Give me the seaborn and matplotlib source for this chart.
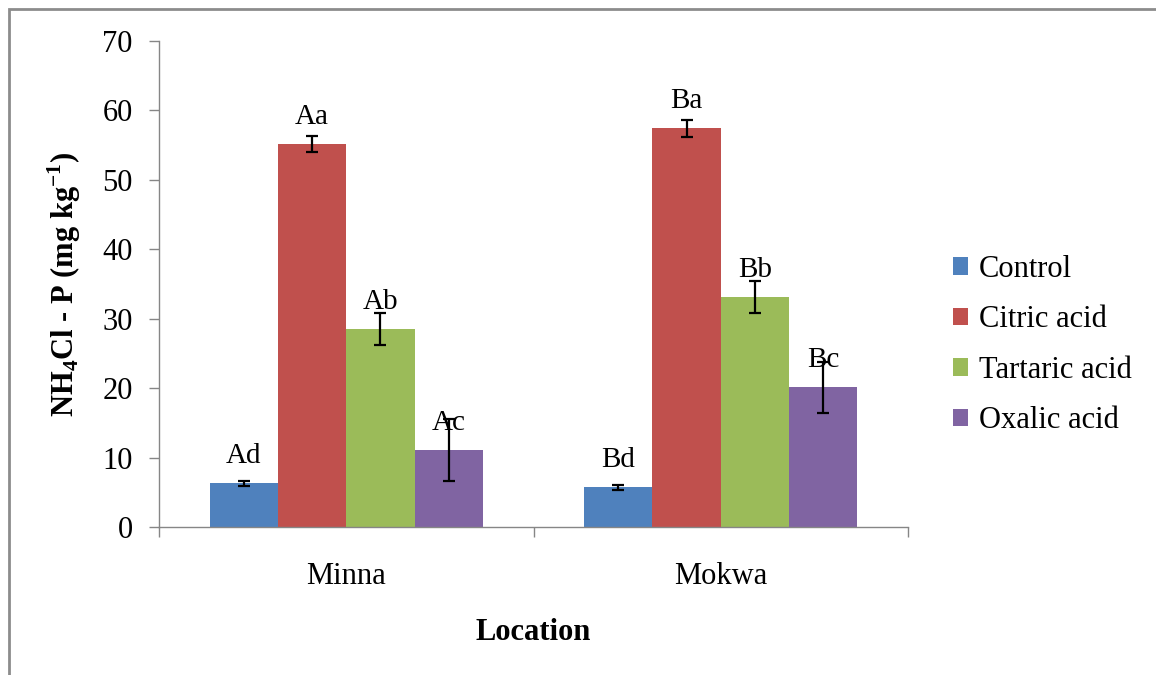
import numpy as np
import pandas as pd
import matplotlib
matplotlib.use('Agg')
import matplotlib.pyplot as plt
import seaborn as sns
from matplotlib.patches import Rectangle

# data
locations = ['Minna', 'Mokwa']
treatments = ['Control', 'Citric acid', 'Tartaric acid', 'Oxalic acid']
minna_means = [6.3, 55.2, 28.5, 11.1]
mokwa_means = [5.7, 57.4, 33.1, 20.1]
minna_err = [0.35, 1.15, 2.3, 4.45]
mokwa_err = [0.3, 1.2, 2.3, 3.7]
minna_letters = ['Ad', 'Aa', 'Ab', 'Ac']
mokwa_letters = ['Bd', 'Ba', 'Bb', 'Bc']
colors = ['#4F81BD', '#C0504D', '#9BBB59', '#8064A2']

df = pd.DataFrame({
    'Location': ['Minna'] * 4 + ['Mokwa'] * 4,
    'Treatment': treatments * 2,
    'value': minna_means + mokwa_means,
    'err': minna_err + mokwa_err,
    'letter': minna_letters + mokwa_letters,
})

sns.set_style('white')
plt.rcParams['font.family'] = ['Liberation Serif', 'DejaVu Serif']
plt.rcParams['mathtext.fontset'] = 'custom'
plt.rcParams['mathtext.rm'] = 'Liberation Serif'
plt.rcParams['mathtext.bf'] = 'Liberation Serif:bold'
plt.rcParams['text.color'] = 'black'
plt.rcParams['axes.labelcolor'] = 'black'
plt.rcParams['xtick.color'] = 'black'
plt.rcParams['ytick.color'] = 'black'

fig = plt.figure(figsize=(11.56, 6.75), dpi=100)
ax = fig.add_axes([159 / 1156, 1 - 527 / 675, (908 - 159) / 1156, (527 - 41) / 675])

sns.barplot(data=df, x='Location', y='value', hue='Treatment', order=locations,
            hue_order=treatments, palette=colors, width=0.73, errorbar=None,
            saturation=1, linewidth=0, ax=ax)

# error bars and letters on top of each bar
bar_containers = list(ax.containers)
for i, cont in enumerate(bar_containers):
    sub = df[df['Treatment'] == treatments[i]].set_index('Location').loc[locations]
    for j, bar in enumerate(cont):
        xc = bar.get_x() + bar.get_width() / 2
        h = bar.get_height()
        ax.errorbar(xc, h, yerr=sub['err'].iloc[j], fmt='none', ecolor='black',
                    elinewidth=1.6, capsize=4.5, capthick=1.6, zorder=5)
        ax.annotate(sub['letter'].iloc[j], (xc, h), xytext=(0, 14.5),
                    textcoords='offset points', ha='center', va='baseline',
                    fontsize=21, zorder=6)

ax.set_ylim(0, 70)
ax.set_yticks(np.arange(0, 71, 10))
ax.set_xlim(-0.5, 1.5)
ax.set_xticks([0, 1])
ax.set_xticks([-0.5, 0.5, 1.5], minor=True)
ax.tick_params(axis='x', which='major', bottom=True, length=0, pad=25, labelsize=22)
ax.tick_params(axis='x', which='minor', bottom=True, length=7, width=1,
               color='#868686', direction='out')
ax.tick_params(axis='y', left=True, length=7, width=1, color='#868686',
               labelcolor='black', direction='out', pad=12, labelsize=22)
for s in ['top', 'right']:
    ax.spines[s].set_visible(False)
for s in ['left', 'bottom']:
    ax.spines[s].set_color('#868686')
    ax.spines[s].set_linewidth(1)

ax.set_xlabel('Location', fontsize=22, fontweight='bold', labelpad=20)
ax.set_ylabel(r'NH$_\mathbf{4}$Cl - P (mg kg$^\mathbf{-1}$)', fontsize=22,
              fontweight='bold', labelpad=14)

leg = ax.legend(loc='center left', bbox_to_anchor=(953 / 1156, 1 - 345 / 675),
                bbox_transform=fig.transFigure, frameon=False, fontsize=22,
                handlelength=0.5, handleheight=0.5, handletextpad=0.35,
                labelspacing=0.7, borderpad=0, borderaxespad=0, title=None)

# outer border of the chart area
fig.add_artist(Rectangle((9 / 1156, -0.1), 1.2, 1.1 - 9 / 675, transform=fig.transFigure,
                         fill=False, edgecolor='#8c8c8c', linewidth=2, clip_on=False))

fig.savefig('out.png', dpi=100)
